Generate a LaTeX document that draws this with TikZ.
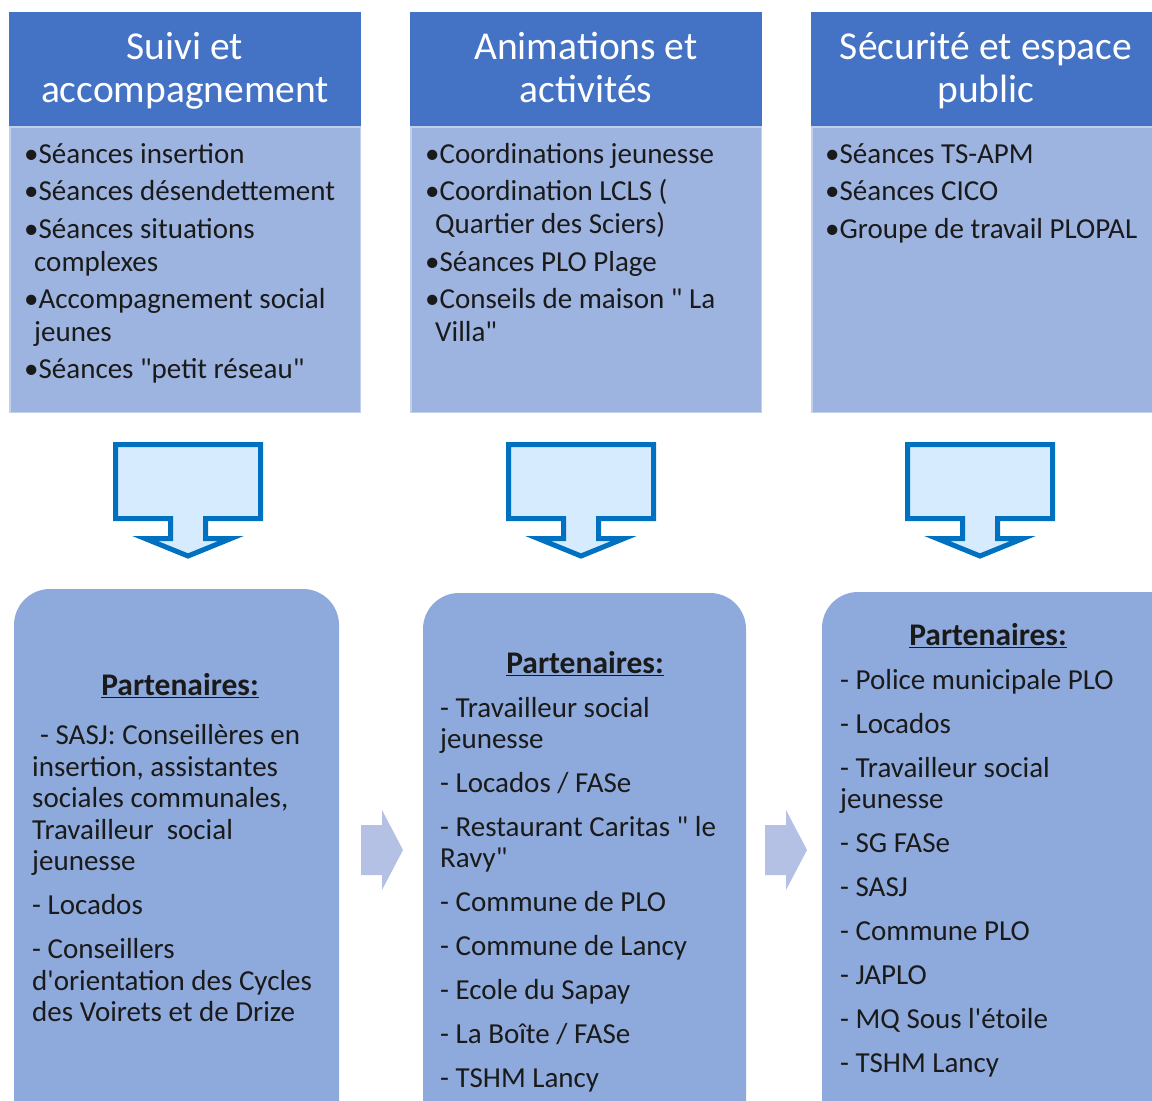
\documentclass[tikz,border=0pt]{standalone}
\usepackage{fontspec}
\setmainfont{Carlito}[Ligatures=TeXOff]
\definecolor{hdr}{HTML}{4472C4}
\definecolor{topbody}{HTML}{9DB3E0}
\definecolor{topedge}{HTML}{C3D0EC}
\definecolor{botbox}{HTML}{8EA9DB}
\definecolor{rarrow}{HTML}{B4C1E4}
\definecolor{darrowline}{HTML}{0070C0}
\definecolor{darrowfill}{HTML}{D7EBFF}
\definecolor{ink}{HTML}{1A1A1A}
\begin{document}
\begin{tikzpicture}[x=1pt,y=-1pt,
  hdrbox/.style={fill=hdr,draw=none},
  bodybox/.style={fill=topbody,draw=topedge,line width=1.5pt},
  partbox/.style={fill=botbox,draw=none,rounded corners=36pt},
  hdrtxt/.style={inner sep=0pt,text=white,font=\fontsize{39.5}{44}\selectfont,anchor=mid,yshift=-10pt},
  txt/.style={inner sep=0pt,text=ink,font=\fontsize{29}{33}\selectfont,anchor=mid west,yshift=-7pt},
  parttitle/.style={inner sep=0pt,text=ink,font=\fontsize{31.5}{35}\selectfont\bfseries,anchor=mid,yshift=-7pt},
  downarrow/.style={fill=darrowfill,draw=darrowline,line width=5pt,line join=miter},
  rightarrow/.style={fill=rarrow,draw=none}]
\useasboundingbox (0,0) rectangle (1152,1101);
\clip (0,0) rectangle (1152,1101);
% top boxes
\path[hdrbox] (9,12) rectangle (361,126);
\path[bodybox] (9.75,126.75) rectangle (360.25,412.25);
\path[hdrbox] (410,12) rectangle (762,126);
\path[bodybox] (410.75,126.75) rectangle (761.25,412.25);
\path[hdrbox] (811,12) rectangle (1160,126);
\path[bodybox] (811.75,126.75) rectangle (1160,412.25);
% headers
\node[hdrtxt] (h1a) at (185,47) {Suivi et};
\node[hdrtxt] (h1b) at (185,90) {accompagnement};
\node[hdrtxt] (h2a) at (586,47) {Animations et};
\node[hdrtxt] (h2b) at (586,90) {activités};
\node[hdrtxt] (h3a) at (986,47) {Sécurité et espace};
\node[hdrtxt] (h3b) at (986,90) {public};
% column 1 bullets
\node[txt] (a1) at (24,154) {•Séances insertion};
\node[txt] (a2) at (24,191) {•Séances désendettement};
\node[txt] (a3) at (24,229) {•Séances situations};
\node[txt] (a3b) at (34,262) {complexes};
\node[txt] (a4) at (24,299) {•Accompagnement social};
\node[txt] (a4b) at (34,332) {jeunes};
\node[txt] (a5) at (24,369) {•Séances "petit réseau"};
% column 2 bullets
\node[txt] (b1) at (425,154) {•Coordinations jeunesse};
\node[txt] (b2) at (425,191) {•Coordination LCLS (};
\node[txt] (b2b) at (435,224) {Quartier des Sciers)};
\node[txt] (b3) at (425,262) {•Séances PLO Plage};
\node[txt] (b4) at (425,299) {•Conseils de maison " La};
\node[txt] (b4b) at (435,332) {Villa"};
% column 3 bullets
\node[txt] (c1) at (825,154) {•Séances TS-APM};
\node[txt] (c2) at (825,191) {•Séances CICO};
\node[txt] (c3) at (825,229) {•Groupe de travail PLOPAL};
% down arrows
\foreach \dx in {0,393,792}{
  \begin{scope}[xshift=\dx pt]
  \draw[downarrow] (115.5,444.5) -- (260.5,444.5) -- (260.5,518.5) -- (205.5,518.5) -- (205.5,538.5)
    -- (231,538.5) -- (188,556) -- (145,538.5) -- (170.5,538.5) -- (170.5,518.5) -- (115.5,518.5) -- cycle;
  \end{scope}
}
% bottom boxes
\path[partbox] (14,589) rectangle (339,1160);
\path[partbox] (423,593) rectangle (746,1160);
\path[partbox] (822,592) rectangle (1190,1160);
% right arrows
\foreach \dx in {0,404}{
  \begin{scope}[xshift=\dx pt]
  \path[rightarrow] (361,825) -- (382,825) -- (382,810) -- (403,850) -- (382,890) -- (382,875) -- (361,875) -- cycle;
  \end{scope}
}
% box 1 partners
\node[parttitle] (p1) at (180,686) {\underline{Partenaires:}};
\node[txt] (p1a) at (40,735) {- SASJ: Conseillères en};
\node[txt] (p1b) at (32,767) {insertion, assistantes};
\node[txt] (p1c) at (32,798) {sociales communales,};
\node[txt] (p1d) at (32,830) {Travailleur\ \ social};
\node[txt] (p1e) at (32,861) {jeunesse};
\node[txt] (p1f) at (32,905) {- Locados};
\node[txt] (p1g) at (32,949) {- Conseillers};
\node[txt] (p1h) at (32,981) {d'orientation des Cycles};
\node[txt] (p1i) at (32,1012) {des Voirets et de Drize};
% box 2 partners
\node[parttitle] (p2) at (585,664) {\underline{Partenaires:}};
\node[txt] (p2a) at (440,708) {- Travailleur social};
\node[txt] (p2b) at (440,739) {jeunesse};
\node[txt] (p2c) at (440,783) {- Locados / FASe};
\node[txt] (p2d) at (440,827) {- Restaurant Caritas " le};
\node[txt] (p2e) at (440,858) {Ravy"};
\node[txt] (p2f) at (440,902) {- Commune de PLO};
\node[txt] (p2g) at (440,946) {- Commune de Lancy};
\node[txt] (p2h) at (440,990) {- Ecole du Sapay};
\node[txt] (p2i) at (440,1034) {- La Boîte / FASe};
\node[txt] (p2j) at (440,1078) {- TSHM Lancy};
% box 3 partners
\node[parttitle] (p3) at (988,636) {\underline{Partenaires:}};
\node[txt] (p3a) at (840,680) {- Police municipale PLO};
\node[txt] (p3b) at (840,724) {- Locados};
\node[txt] (p3c) at (840,768) {- Travailleur social};
\node[txt] (p3d) at (840,799) {jeunesse};
\node[txt] (p3e) at (840,843) {- SG FASe};
\node[txt] (p3f) at (840,887) {- SASJ};
\node[txt] (p3g) at (840,931) {- Commune PLO};
\node[txt] (p3h) at (840,975) {- JAPLO};
\node[txt] (p3i) at (840,1019) {- MQ Sous l'étoile};
\node[txt] (p3j) at (840,1063) {- TSHM Lancy};
\end{tikzpicture}
\end{document}
